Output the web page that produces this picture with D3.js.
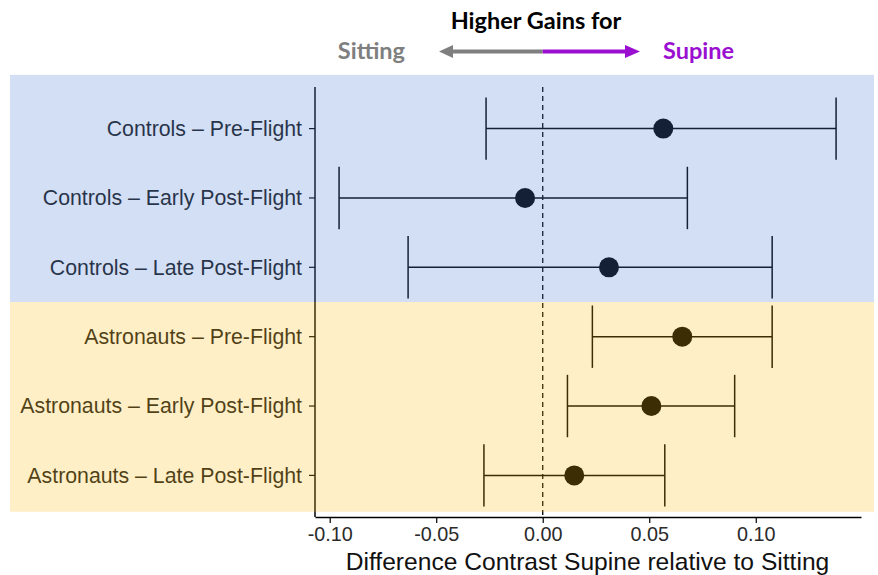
<!DOCTYPE html>
<html>
<head>
<meta charset="utf-8">
<script src="https://cdn.jsdelivr.net/npm/d3@7"></script>
<style>
  body { margin: 0; background: #fff; }
  svg { display: block; }
</style>
</head>
<body>
<svg width="878" height="575"></svg>
<script>
// groups, top to bottom
const labels = [
    "Controls – Pre-Flight",
    "Controls – Early Post-Flight",
    "Controls – Late Post-Flight",
    "Astronauts – Pre-Flight",
    "Astronauts – Early Post-Flight",
    "Astronauts – Late Post-Flight"
];
const estimates = [0.0566, -0.0083, 0.0311, 0.0655, 0.0510, 0.0148];
const lower = [-0.0266, -0.0956, -0.0632, 0.0233, 0.0116, -0.0276];
const upper = [0.1377, 0.0679, 0.1077, 0.1077, 0.0901, 0.0573];
const xTicks = [-0.10, -0.05, 0.00, 0.05, 0.10];

const data = labels.map((l, i) => ({ label: l, est: estimates[i], lo: lower[i], hi: upper[i] }));

const svg = d3.select('svg');
const sans = "'Liberation Sans', Arial, sans-serif";
const head = "Lato, 'Open Sans', sans-serif";

const x = d3.scaleLinear()
    .domain([-0.1069, 0.1494])
    .range([315, 861]);

const y = d3.scalePoint()
    .domain(labels)
    .range([87, 517])
    .padding(0.6);

const step = y.step();
const g = svg.append("g");

// y axis
g.append("line")
    .attr("x1", 315).attr("x2", 315)
    .attr("y1", 87).attr("y2", 517)
    .attr("stroke", "#000").attr("stroke-width", 1.5);

g.selectAll(".ytick")
    .data(labels).enter().append("line")
    .attr("x1", 309).attr("x2", 315)
    .attr("y1", d => y(d)).attr("y2", d => y(d))
    .attr("stroke", "#000").attr("stroke-width", 1.2);

g.selectAll(".ylab")
    .data(labels).enter().append("text")
    .attr("x", 302)
    .attr("y", d => y(d))
    .attr("dy", "0.35em")
    .attr("text-anchor", "end")
    .style("font-family", sans)
    .style("font-size", "21.3px")
    .style("fill", "#1a1a1a")
    .text(d => d);

// x axis
const fmt = d => d3.format(".2f")(d).replace("−", "-");
const xAxis = svg.append("g")
    .attr("transform", "translate(0,517)")
    .call(d3.axisBottom(x).tickValues(xTicks).tickFormat(fmt).tickSize(6).tickSizeOuter(0));
xAxis.select(".domain").attr("stroke", "#000").attr("stroke-width", 1.5);
xAxis.selectAll(".tick line").attr("stroke", "#000").attr("stroke-width", 1.2);
xAxis.selectAll("text")
    .attr("y", 10)
    .attr("dy", "0.71em")
    .style("font-family", sans)
    .style("font-size", "19.8px")
    .style("fill", "#2b2b2b");

svg.append("text")
    .attr("x", (315 + 861) / 2 - 0.5)
    .attr("y", 570)
    .attr("text-anchor", "middle")
    .style("font-family", sans)
    .style("font-size", "24.6px")
    .style("fill", "#111")
    .text("Difference Contrast Supine relative to Sitting");

// zero reference line
g.append("line")
    .attr("x1", x(0)).attr("x2", x(0))
    .attr("y1", 87).attr("y2", 517)
    .attr("stroke", "#000").attr("stroke-width", 1.3)
    .attr("stroke-dasharray", "5,4");

// error bars
const bars = g.selectAll(".bar").data(data).enter().append("g");
bars.append("line")
    .attr("x1", d => x(d.lo)).attr("x2", d => x(d.hi))
    .attr("y1", d => y(d.label)).attr("y2", d => y(d.label))
    .attr("stroke", "#000").attr("stroke-width", 1.5);
bars.append("line")
    .attr("x1", d => x(d.lo)).attr("x2", d => x(d.lo))
    .attr("y1", d => y(d.label) - step * 0.45).attr("y2", d => y(d.label) + step * 0.45)
    .attr("stroke", "#000").attr("stroke-width", 1.5);
bars.append("line")
    .attr("x1", d => x(d.hi)).attr("x2", d => x(d.hi))
    .attr("y1", d => y(d.label) - step * 0.45).attr("y2", d => y(d.label) + step * 0.45)
    .attr("stroke", "#000").attr("stroke-width", 1.5);
bars.append("circle")
    .attr("cx", d => x(d.est))
    .attr("cy", d => y(d.label))
    .attr("r", 10)
    .attr("fill", "#000");

// group bands laid over the chart
const split = (y(labels[2]) + y(labels[3])) / 2;
svg.append("rect")
    .attr("x", 10).attr("width", 864)
    .attr("y", y(labels[0]) - step * 0.775)
    .attr("height", split - (y(labels[0]) - step * 0.775))
    .attr("fill", "rgb(80,128,212)")
    .attr("opacity", 0.25);
svg.append("rect")
    .attr("x", 10).attr("width", 864)
    .attr("y", split)
    .attr("height", y(labels[5]) + step * 0.525 - split)
    .attr("fill", "rgb(255,190,20)")
    .attr("opacity", 0.24);

// header
svg.append("text")
    .attr("x", 536).attr("y", 29)
    .attr("text-anchor", "middle")
    .style("font-family", head)
    .style("font-weight", "bold")
    .style("font-size", "23.5px")
    .style("fill", "#000")
    .text("Higher Gains for");

svg.append("text")
    .attr("x", 405).attr("y", 59)
    .attr("text-anchor", "end")
    .style("font-family", head)
    .style("font-weight", "bold")
    .style("font-size", "23.5px")
    .style("fill", "#7f7f7f")
    .text("Sitting");

svg.append("text")
    .attr("x", 663).attr("y", 59)
    .attr("text-anchor", "start")
    .style("font-family", head)
    .style("font-weight", "bold")
    .style("font-size", "23.5px")
    .style("fill", "#9a0fd0")
    .text("Supine");

const arrowY = 51.5;
svg.append("line")
    .attr("x1", 450).attr("x2", x(0))
    .attr("y1", arrowY).attr("y2", arrowY)
    .attr("stroke", "#7f7f7f").attr("stroke-width", 4);
svg.append("path")
    .attr("d", `M439,${arrowY} L453,${arrowY - 6.5} L453,${arrowY + 6.5} Z`)
    .attr("fill", "#7f7f7f");
svg.append("line")
    .attr("x1", x(0)).attr("x2", 628)
    .attr("y1", arrowY).attr("y2", arrowY)
    .attr("stroke", "#9a0fd0").attr("stroke-width", 4);
svg.append("path")
    .attr("d", `M640,${arrowY} L625,${arrowY - 6.5} L625,${arrowY + 6.5} Z`)
    .attr("fill", "#9a0fd0");
</script>
</body>
</html>
